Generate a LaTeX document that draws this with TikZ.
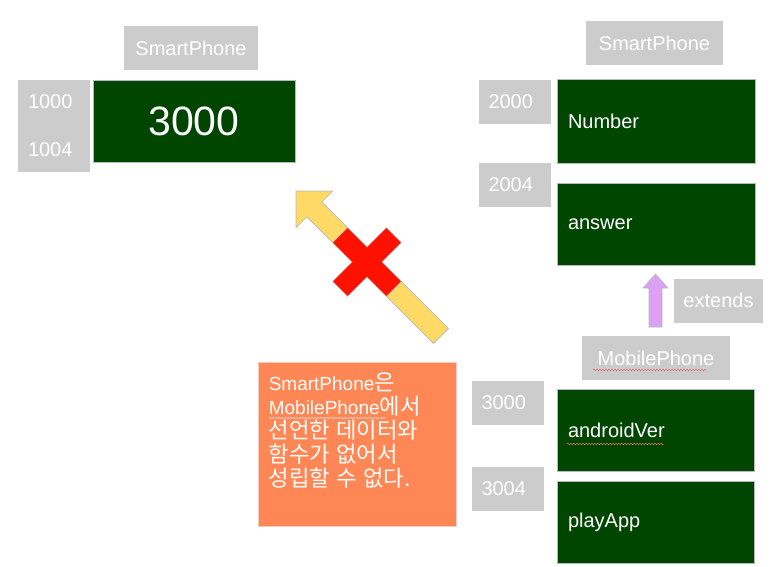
\documentclass[tikz,border=0pt]{standalone}
\usepackage{fontspec}
\setmainfont{Liberation Sans}
\newfontfamily\krfont[Scale=1.17]{Noto Sans CJK KR}
\usetikzlibrary{decorations.pathmorphing}
\definecolor{boxgreen}{RGB}{0,70,0}
\definecolor{boxgray}{RGB}{204,204,204}
\definecolor{noteorange}{RGB}{255,135,85}
\definecolor{arrowyellow}{RGB}{255,217,102}
\definecolor{crossred}{RGB}{255,17,0}
\definecolor{extviolet}{RGB}{221,160,245}
\definecolor{edgegray}{RGB}{185,185,185}
\definecolor{wavyred}{RGB}{230,110,110}
\newcommand{\txtsize}{\fontsize{20}{24}\selectfont}
\begin{document}
\begin{tikzpicture}[x=1pt, y=-1pt,
    label/.style={rectangle, fill=boxgray, text=white, minimum height=44, inner sep=0, font=\txtsize},
    addr/.style={rectangle, fill=boxgray, text=white, minimum width=72, minimum height=44, text width=52, inner xsep=10, inner ysep=0, align=left, font=\txtsize},
    field/.style={rectangle, draw=edgegray, line width=0.8, fill=boxgreen, text=white, minimum height=82, text width=176, inner xsep=11, inner ysep=0, align=left, font=\txtsize},
    wavy/.style={decorate, decoration={snake, amplitude=0.8pt, segment length=3pt}, line width=0.5, draw=wavyred}
]
\useasboundingbox (0,0) rectangle (779,567);

% left: SmartPhone alone
\node[label, minimum width=134] (spleft) at (191,48.5) {SmartPhone};
\node[addr, minimum height=92, font=\fontsize{20}{48}\selectfont] (addrleft) at (54,126) {1000\\1004};
\node[field, text width=180, align=center, minimum height=82, font=\fontsize{41}{44}\selectfont] (valleft) at (194,121) {3000};

% right: SmartPhone fields
\node[label, minimum width=137] (spright) at (654.5,43) {SmartPhone};
\node[addr] (a2000) at (514.5,102) {2000};
\node[field, minimum height=84] (fnumber) at (656,121) {Number};
\node[addr] (a2004) at (514.5,185) {2004};
\node[field] (fanswer) at (656,224) {answer};

% extends
\fill[extviolet, draw=edgegray, line width=0.6] (655.5,274) -- (668,288) -- (662,288) -- (662,327) -- (649,327) -- (649,288) -- (643,288) -- cycle;
\node[label, minimum width=89] (ext) at (718.5,300.5) {extends};

% right: MobilePhone fields
\node[label, minimum width=148] (mpright) at (656,358) {MobilePhone};
\node[addr, minimum width=71] (a3000) at (507.5,402.5) {3000};
\node[field, text width=175] (fandroid) at (655.5,430) {androidVer};
\node[addr, minimum width=71] (a3004) at (507.5,488.5) {3004};
\node[field, text width=175] (fplay) at (655.5,522) {playApp};
\draw[wavy] (593,370) -- (706,370);
\draw[wavy] (567,444) -- (664,444);

% blocked arrow
\begin{scope}[shift={(296,191)}, rotate=135]
  \fill[arrowyellow, draw=edgegray, line width=0.6] (0,0) -- (-26,26) -- (-26,10.5) -- (-205,10.5) -- (-205,-10.5) -- (-26,-10.5) -- (-26,-26) -- cycle;
\end{scope}
\begin{scope}[shift={(367,262)}, rotate=45]
  \fill[crossred, draw=edgegray, line width=0.4] (38,-10.5) -- (38,10.5) -- (10.5,10.5) -- (10.5,38) -- (-10.5,38) -- (-10.5,10.5) -- (-38,10.5) -- (-38,-10.5) -- (-10.5,-10.5) -- (-10.5,-38) -- (10.5,-38) -- (10.5,-10.5) -- cycle;
\end{scope}

% note
\node[rectangle, fill=noteorange, draw={rgb,255:red,235;green,205;blue,190}, line width=0.8, minimum width=198, minimum height=164] (note) at (357,444) {};
\node[anchor=north west, text=white, text width=180, inner xsep=11, inner ysep=11, align=left, font=\fontsize{19}{24}\selectfont] (notetxt) at (note.north west)
  {SmartPhone{\krfont 은}\\MobilePhone{\krfont 에서}\\{\krfont 선언한 데이터와}\\{\krfont 함수가 없어서}\\{\krfont 성립할 수 없다.}};
\draw[wavy, draw={rgb,255:red,235;green,215;blue,210}] (269,418) -- (386,418);
\end{tikzpicture}
\end{document}
